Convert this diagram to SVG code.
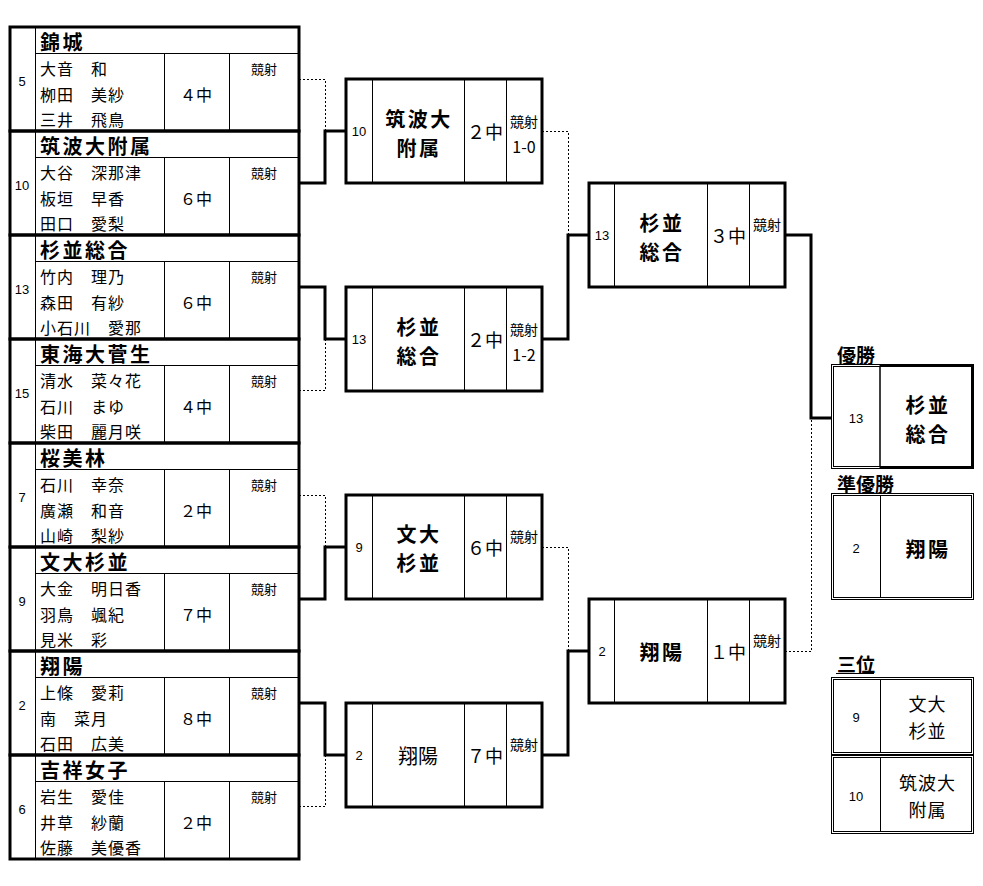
<svg xmlns="http://www.w3.org/2000/svg" width="983" height="886" viewBox="0 0 983 886">
<style>
.thick{fill:none;stroke:#000;stroke-width:3}
.thin{fill:none;stroke:#000;stroke-width:1}
.dot{fill:none;stroke:#000;stroke-width:1;stroke-dasharray:2 2}
text{font-family:"Noto Sans CJK JP","Noto Sans CJK SC",sans-serif;fill:#000;dominant-baseline:central}
.num{font-family:"Liberation Sans","Noto Sans CJK JP",sans-serif;font-size:13px;text-anchor:middle}
.team{font-size:20px;font-weight:bold;letter-spacing:2.5px}
.nm{font-size:16px;letter-spacing:1px}
.sc{font-size:16px;text-anchor:middle}
.ks{font-size:13px;text-anchor:middle}
.bn{font-size:20px;font-weight:bold;text-anchor:middle;letter-spacing:2.5px}
.rn{font-size:20px;text-anchor:middle}
.rs{font-size:18px;text-anchor:middle}
.rk{font-size:14px;text-anchor:middle}
.rr{font-size:16px;text-anchor:middle}
.lbl{font-size:19px;font-weight:bold}
.fn{font-size:18px;text-anchor:middle;letter-spacing:1px}
</style>
<rect width="983" height="886" fill="#fff"/>

<g id="connectors">
<path class="thick" d="M299 183H325V131H346"/>
<path class="thick" d="M299 287H325V339H346"/>
<path class="thick" d="M299 599H325V547H346"/>
<path class="thick" d="M299 703H325V755H346"/>
<path class="thick" d="M542 339H568V235H589"/>
<path class="thick" d="M542 755H568V651H589"/>
<path class="thick" d="M785 235H811V418H832"/>
<path class="dot" d="M299 79.5H325.5V131"/>
<path class="dot" d="M299 390.5H325.5V339"/>
<path class="dot" d="M299 495.5H325.5V547"/>
<path class="dot" d="M299 806.5H325.5V755"/>
<path class="dot" d="M542 131.5H568.5V235"/>
<path class="dot" d="M542 547.5H568.5V651"/>
<path class="dot" d="M785 651.5H811.5V418"/>
</g>

<g id="team-kinjo" transform="translate(0,27)">
<rect class="thick" x="10" y="0" width="289" height="104"/>
<path class="thin" d="M35.5 0V104M35 26.5H299M164.5 26V104M229.5 26V104"/>
<text class="num" x="22" y="54">5</text>
<text class="team" x="40" y="14.5">錦城</text>
<text class="nm" x="40" y="41">大音　和</text>
<text class="nm" x="40" y="66.5">栁田　美紗</text>
<text class="nm" x="40" y="92">三井　飛鳥</text>
<text class="sc" x="196" y="67">４中</text>
<text class="ks" x="264" y="41">競射</text>
</g>

<g id="team-tsukuba" transform="translate(0,131)">
<rect class="thick" x="10" y="0" width="289" height="104"/>
<path class="thin" d="M35.5 0V104M35 26.5H299M164.5 26V104M229.5 26V104"/>
<text class="num" x="22" y="54">10</text>
<text class="team" x="40" y="14.5">筑波大附属</text>
<text class="nm" x="40" y="41">大谷　深那津</text>
<text class="nm" x="40" y="66.5">板垣　早香</text>
<text class="nm" x="40" y="92">田口　愛梨</text>
<text class="sc" x="196" y="67">６中</text>
<text class="ks" x="264" y="41">競射</text>
</g>

<g id="team-suginami" transform="translate(0,235)">
<rect class="thick" x="10" y="0" width="289" height="104"/>
<path class="thin" d="M35.5 0V104M35 26.5H299M164.5 26V104M229.5 26V104"/>
<text class="num" x="22" y="54">13</text>
<text class="team" x="40" y="14.5">杉並総合</text>
<text class="nm" x="40" y="41">竹内　理乃</text>
<text class="nm" x="40" y="66.5">森田　有紗</text>
<text class="nm" x="40" y="92">小石川　愛那</text>
<text class="sc" x="196" y="67">６中</text>
<text class="ks" x="264" y="41">競射</text>
</g>

<g id="team-tokaisugao" transform="translate(0,339)">
<rect class="thick" x="10" y="0" width="289" height="104"/>
<path class="thin" d="M35.5 0V104M35 26.5H299M164.5 26V104M229.5 26V104"/>
<text class="num" x="22" y="54">15</text>
<text class="team" x="40" y="14.5">東海大菅生</text>
<text class="nm" x="40" y="41">清水　菜々花</text>
<text class="nm" x="40" y="66.5">石川　まゆ</text>
<text class="nm" x="40" y="92">柴田　麗月咲</text>
<text class="sc" x="196" y="67">４中</text>
<text class="ks" x="264" y="41">競射</text>
</g>

<g id="team-obirin" transform="translate(0,443)">
<rect class="thick" x="10" y="0" width="289" height="104"/>
<path class="thin" d="M35.5 0V104M35 26.5H299M164.5 26V104M229.5 26V104"/>
<text class="num" x="22" y="54">7</text>
<text class="team" x="40" y="14.5">桜美林</text>
<text class="nm" x="40" y="41">石川　幸奈</text>
<text class="nm" x="40" y="66.5">廣瀬　和音</text>
<text class="nm" x="40" y="92">山崎　梨紗</text>
<text class="sc" x="196" y="67">２中</text>
<text class="ks" x="264" y="41">競射</text>
</g>

<g id="team-bundai" transform="translate(0,547)">
<rect class="thick" x="10" y="0" width="289" height="104"/>
<path class="thin" d="M35.5 0V104M35 26.5H299M164.5 26V104M229.5 26V104"/>
<text class="num" x="22" y="54">9</text>
<text class="team" x="40" y="14.5">文大杉並</text>
<text class="nm" x="40" y="41">大金　明日香</text>
<text class="nm" x="40" y="66.5">羽鳥　颯紀</text>
<text class="nm" x="40" y="92">見米　彩</text>
<text class="sc" x="196" y="67">７中</text>
<text class="ks" x="264" y="41">競射</text>
</g>

<g id="team-shoyo" transform="translate(0,651)">
<rect class="thick" x="10" y="0" width="289" height="104"/>
<path class="thin" d="M35.5 0V104M35 26.5H299M164.5 26V104M229.5 26V104"/>
<text class="num" x="22" y="54">2</text>
<text class="team" x="40" y="14.5">翔陽</text>
<text class="nm" x="40" y="41">上條　愛莉</text>
<text class="nm" x="40" y="66.5">南　菜月</text>
<text class="nm" x="40" y="92">石田　広美</text>
<text class="sc" x="196" y="67">８中</text>
<text class="ks" x="264" y="41">競射</text>
</g>

<g id="team-kichijo" transform="translate(0,755)">
<rect class="thick" x="10" y="0" width="289" height="104"/>
<path class="thin" d="M35.5 0V104M35 26.5H299M164.5 26V104M229.5 26V104"/>
<text class="num" x="22" y="54">6</text>
<text class="team" x="40" y="14.5">吉祥女子</text>
<text class="nm" x="40" y="41">岩生　愛佳</text>
<text class="nm" x="40" y="66.5">井草　紗蘭</text>
<text class="nm" x="40" y="92">佐藤　美優香</text>
<text class="sc" x="196" y="67">２中</text>
<text class="ks" x="264" y="41">競射</text>
</g>

<g id="r1-tsukuba" transform="translate(346,79)">
<rect class="thick" x="0" y="0" width="196" height="104"/>
<path class="thin" d="M26.5 0V104M118.5 0V104M160.5 0V104"/>
<text class="num" x="13" y="52">10</text>
<text class="bn"><tspan x="73" y="39">筑波大</tspan><tspan x="73" y="68">附属</tspan></text>
<text class="rs" x="139" y="52">２中</text>
<text class="rk"><tspan x="178" y="42">競射</tspan><tspan class="rr" x="178" y="67">1-0</tspan></text>
</g>

<g id="r1-suginami" transform="translate(346,287)">
<rect class="thick" x="0" y="0" width="196" height="104"/>
<path class="thin" d="M26.5 0V104M118.5 0V104M160.5 0V104"/>
<text class="num" x="13" y="52">13</text>
<text class="bn"><tspan x="73" y="39">杉並</tspan><tspan x="73" y="68">総合</tspan></text>
<text class="rs" x="139" y="52">２中</text>
<text class="rk"><tspan x="178" y="42">競射</tspan><tspan class="rr" x="178" y="67">1-2</tspan></text>
</g>

<g id="r1-bundai" transform="translate(346,495)">
<rect class="thick" x="0" y="0" width="196" height="104"/>
<path class="thin" d="M26.5 0V104M118.5 0V104M160.5 0V104"/>
<text class="num" x="13" y="52">9</text>
<text class="bn"><tspan x="73" y="38">文大</tspan><tspan x="73" y="67">杉並</tspan></text>
<text class="rs" x="139" y="52">６中</text>
<text class="rk" x="178" y="41">競射</text>
</g>

<g id="r1-shoyo" transform="translate(346,703)">
<rect class="thick" x="0" y="0" width="196" height="104"/>
<path class="thin" d="M26.5 0V104M118.5 0V104M160.5 0V104"/>
<text class="num" x="13" y="52">2</text>
<text class="rn" x="72" y="52">翔陽</text>
<text class="rs" x="139" y="52">７中</text>
<text class="rk" x="178" y="41">競射</text>
</g>

<g id="r2-suginami" transform="translate(589,183)">
<rect class="thick" x="0" y="0" width="196" height="104"/>
<path class="thin" d="M25.5 0V104M118.5 0V104M160.5 0V104"/>
<text class="num" x="13" y="52">13</text>
<text class="bn"><tspan x="73" y="39">杉並</tspan><tspan x="73" y="68">総合</tspan></text>
<text class="rs" x="139" y="52">３中</text>
<text class="rk" x="178" y="41">競射</text>
</g>

<g id="r2-shoyo" transform="translate(589,599)">
<rect class="thick" x="0" y="0" width="196" height="104"/>
<path class="thin" d="M25.5 0V104M118.5 0V104M160.5 0V104"/>
<text class="num" x="13" y="52">2</text>
<text class="bn" x="73" y="52">翔陽</text>
<text class="rs" x="139" y="52">１中</text>
<text class="rk" x="178" y="41">競射</text>
</g>

<g id="champion">
<text class="lbl" x="837" y="354">優勝</text>
<rect class="thin" x="831.5" y="364.5" width="48.5" height="104"/>
<rect class="thin" x="833.5" y="366.5" width="46.5" height="100"/>
<path class="thick" d="M880 365.5H972.5V467.5H880"/>
<text class="num" x="856" y="418">13</text>
<text class="bn"><tspan x="928" y="403.5">杉並</tspan><tspan x="928" y="432.5">総合</tspan></text>
</g>

<g id="runner-up">
<text class="lbl" x="837" y="483">準優勝</text>
<rect class="thin" x="831.5" y="493.5" width="142" height="106"/>
<rect class="thin" x="833.5" y="495.5" width="138" height="102"/>
<path class="thin" d="M880.5 495V598"/>
<text class="num" x="856" y="548">2</text>
<text class="bn" x="928" y="548">翔陽</text>
</g>

<g id="third-9">
<text class="lbl" x="837" y="663">三位</text>
<path class="thin" d="M836 673.5H874"/>
<rect class="thin" x="831.5" y="677.5" width="142" height="77"/>
<rect class="thin" x="833.5" y="679.5" width="138" height="73"/>
<path class="thin" d="M880.5 679V753"/>
<text class="num" x="856" y="717">9</text>
<text class="fn"><tspan x="927.5" y="703">文大</tspan><tspan x="927.5" y="730">杉並</tspan></text>
</g>

<g id="third-10">
<rect class="thin" x="831.5" y="755.5" width="142" height="78"/>
<rect class="thin" x="833.5" y="757.5" width="138" height="74"/>
<path class="thin" d="M880.5 757V832"/>
<text class="num" x="856" y="796">10</text>
<text class="fn"><tspan x="927.5" y="781.5">筑波大</tspan><tspan x="927.5" y="808.5">附属</tspan></text>
</g>
</svg>
